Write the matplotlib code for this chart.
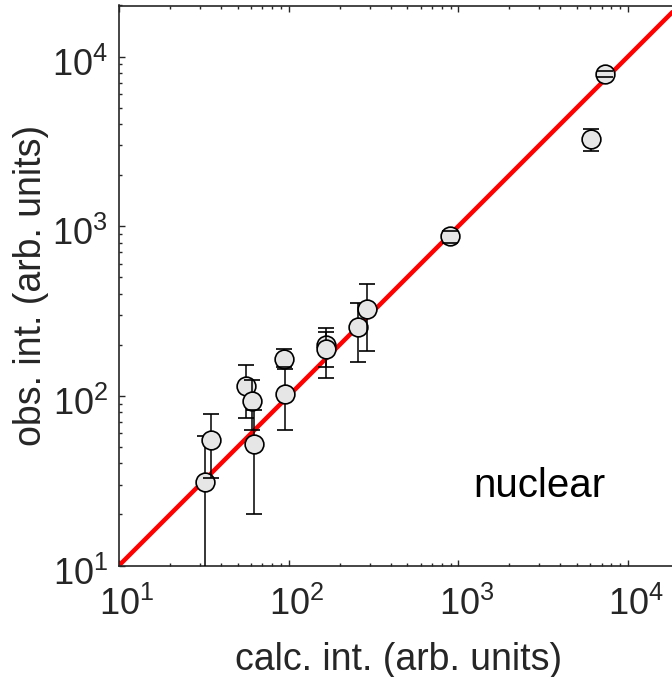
import numpy as np
import matplotlib
matplotlib.use('Agg')
import matplotlib.pyplot as plt
import matplotlib.transforms as mtrans
from matplotlib.ticker import LogLocator, LogFormatterMathtext, NullFormatter

plt.rcParams['font.family'] = ['Liberation Sans', 'DejaVu Sans']
plt.rcParams['mathtext.fontset'] = 'custom'
plt.rcParams['mathtext.rm'] = 'Liberation Sans'
plt.rcParams['mathtext.it'] = 'Liberation Sans:italic'
plt.rcParams['mathtext.bf'] = 'Liberation Sans:bold'

calc = [32.3, 34.8, 56.0, 60.7, 62.1, 95.3, 94.1, 165, 166, 255, 288, 891, 7278, 6075]
obs = [31.2, 55.3, 114, 93.1, 51.8, 102, 166, 199, 188, 253, 323, 875, 7925, 3251]
obs_hi = [57.9, 77.7, 153, 124, 82.4, 143.6, 188, 250, 237, 351, 459, 937, 8207, 3758]
obs_lo = [1.0, 32.9, 74.1, 62.8, 20.1, 62.8, 147, 127, 147, 158, 184, 800, 7570, 2762]

ink = '#262626'

fig = plt.figure(figsize=(6.72, 6.77), dpi=100)
ax = fig.add_axes([119/672, (677-565.5)/677, 560/672, 560/677])

ax.set_xscale('log')
ax.set_yscale('log')
ax.set_xlim(10, 2e4)
ax.set_ylim(10, 2e4)

# y = x reference line
line_x = np.array([10, 2e4])
ax.plot(line_x, line_x, color='red', lw=3.2, zorder=2, solid_capstyle='butt')

for i in range(len(calc)):
    lo = obs[i] - obs_lo[i]
    hi = obs_hi[i] - obs[i]
    pl, caps, bars = ax.errorbar(calc[i], obs[i], yerr=[[lo], [hi]], fmt='o',
                                 ms=13.5, mfc='#e6e6e6', mec='black', mew=1.2,
                                 ecolor='black', elinewidth=1.1, capsize=6,
                                 capthick=1.1)
    pl.set_zorder(4 + 3*i)
    for b in bars:
        b.set_zorder(3 + 3*i)
    for c in caps:
        c.set_zorder(5 + 3*i)

ax.text(0.632, 0.122, 'nuclear', transform=ax.transAxes, fontsize=29,
        ha='left', va='baseline', color='black')

for axis in (ax.xaxis, ax.yaxis):
    axis.set_major_locator(LogLocator(base=10, numticks=10))
    axis.set_minor_locator(LogLocator(base=10, subs=np.arange(2, 10), numticks=10))
    axis.set_major_formatter(LogFormatterMathtext())
    axis.set_minor_formatter(NullFormatter())

ax.tick_params(which='both', direction='in', top=True, right=True,
               colors=ink, labelsize=26, width=1.0)
ax.tick_params(which='major', length=4.3, pad=8)
ax.tick_params(which='minor', length=2.5)
for s in ax.spines.values():
    s.set_color(ink)
    s.set_linewidth(1.2)

ax.set_xlabel('calc. int. (arb. units)', fontsize=27, color=ink, labelpad=14)
ax.set_ylabel('obs. int. (arb. units)', fontsize=27, color=ink, labelpad=2)

# nudge tick labels the way MATLAB places them
fig.canvas.draw()
xshift = mtrans.ScaledTranslation(0.08, -0.10, fig.dpi_scale_trans)
yshift = mtrans.ScaledTranslation(0, -0.05, fig.dpi_scale_trans)
for t in ax.xaxis.get_major_ticks():
    t.label1.set_transform(t.label1.get_transform() + xshift)
for t in ax.yaxis.get_major_ticks():
    t.label1.set_transform(t.label1.get_transform() + yshift)

fig.savefig('out.png', dpi=100)
